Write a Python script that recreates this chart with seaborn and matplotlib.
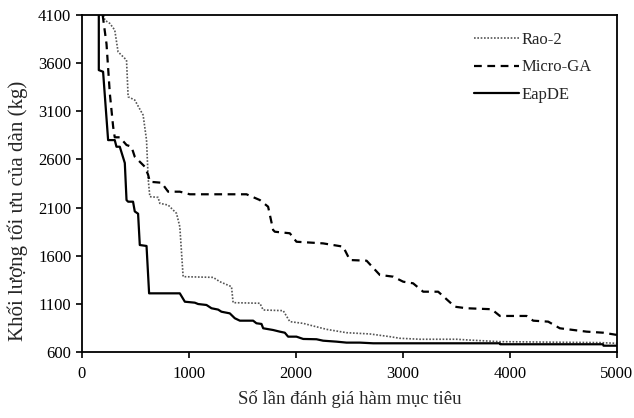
import numpy as np
import pandas as pd
import seaborn as sns
import matplotlib.pyplot as plt

# convergence histories (evaluations, mass in kg)
rao_x = [205, 215, 262, 308, 339, 418, 433, 495, 573, 605, 620, 636, 713, 729, 807, 885,
         916, 947, 1227, 1290, 1399, 1414, 1664, 1695, 1882, 1944, 2069, 2162, 2287, 2474,
         2692, 2879, 2972, 3159, 3502, 3600, 3907, 4841, 5000]
rao_y = [4100, 4047, 4013, 3944, 3718, 3632, 3251, 3217, 3061, 2801, 2403, 2213, 2206, 2144, 2126, 2040,
         1901, 1382, 1375, 1330, 1278, 1112, 1106, 1036, 1029, 915, 897, 870, 835, 800,
         787, 759, 742, 732, 732, 725, 707, 697, 690]

mga_x = [195, 231, 262, 293, 308, 355, 418, 464, 495, 589, 620, 636, 745, 807, 916, 1009,
         1539, 1664, 1741, 1788, 1804, 1944, 2006, 2255, 2442, 2505, 2661, 2785, 2910, 3003,
         3096, 3190, 3330, 3486, 3595, 3829, 3907, 4156, 4218, 4358, 4467, 4717, 4872, 5000]
mga_y = [4100, 3800, 3286, 2940, 2830, 2830, 2750, 2732, 2628, 2524, 2440, 2368, 2358, 2265, 2265, 2238,
         2238, 2178, 2109, 1867, 1849, 1833, 1745, 1728, 1694, 1555, 1548, 1400, 1382, 1330,
         1313, 1226, 1226, 1070, 1054, 1044, 974, 974, 925, 915, 846, 811, 800, 777]

eap_x = [159, 159, 199, 246, 308, 324, 355, 402, 418, 433, 479, 495, 526, 542, 605, 629,
         916, 963, 1056, 1087, 1165, 1212, 1274, 1305, 1383, 1430, 1477, 1601, 1632, 1679,
         1695, 1788, 1850, 1897, 1928, 2006, 2069, 2193, 2255, 2380, 2474, 2598, 2723, 3907,
         3910, 4870, 4875, 5000]
eap_y = [4300, 3528, 3511, 2801, 2801, 2732, 2732, 2563, 2178, 2161, 2161, 2060, 2036, 1711, 1701, 1209,
         1209, 1122, 1112, 1098, 1088, 1054, 1040, 1018, 1001, 950, 925, 925, 898, 891,
         846, 828, 811, 800, 759, 759, 735, 732, 717, 707, 697, 697, 690, 690,
         680, 680, 665, 665]

sns.set_style("ticks")
plt.rcParams["font.family"] = ["Liberation Serif", "DejaVu Serif"]

fig, ax = plt.subplots(figsize=(6.34, 4.18), dpi=100)
fig.subplots_adjust(left=0.129, right=0.973, top=0.964, bottom=0.158)

sns.lineplot(x=rao_x, y=rao_y, ax=ax, sort=False, estimator=None, color="#555555",
             linewidth=1.2, linestyle=(0, (1, 1)), label="Rao-2")
sns.lineplot(x=mga_x, y=mga_y, ax=ax, sort=False, estimator=None, color="black",
             linewidth=1.6, linestyle=(0, (3.5, 2.5)), label="Micro-GA")
sns.lineplot(x=eap_x, y=eap_y, ax=ax, sort=False, estimator=None, color="black",
             linewidth=1.6, linestyle="-", label="EapDE")

ax.set_xlim(0, 5000)
ax.set_ylim(600, 4100)
ax.set_xticks([0, 1000, 2000, 3000, 4000, 5000])
ax.set_yticks(np.arange(600, 4101, 500))
ax.tick_params(direction="out", length=4, width=1.2, labelsize=12, colors="black")
ax.tick_params(axis="x", pad=6)
for s in ax.spines.values():
    s.set_visible(True)
    s.set_linewidth(1.3)
    s.set_color("black")

ax.set_xlabel("Số lần đánh giá hàm mục tiêu", fontsize=13.5, labelpad=6)
ax.set_ylabel("Khối lượng tối ưu của dàn (kg)", fontsize=15)
ax.yaxis.set_label_coords(-0.1, 0.42)

ax.legend(loc="upper right", bbox_to_anchor=(0.982, 0.995), frameon=False, fontsize=12,
          handlelength=2.7, handletextpad=0.2, labelspacing=0.7)

fig.savefig("out.png", dpi=100)
plt.close(fig)
